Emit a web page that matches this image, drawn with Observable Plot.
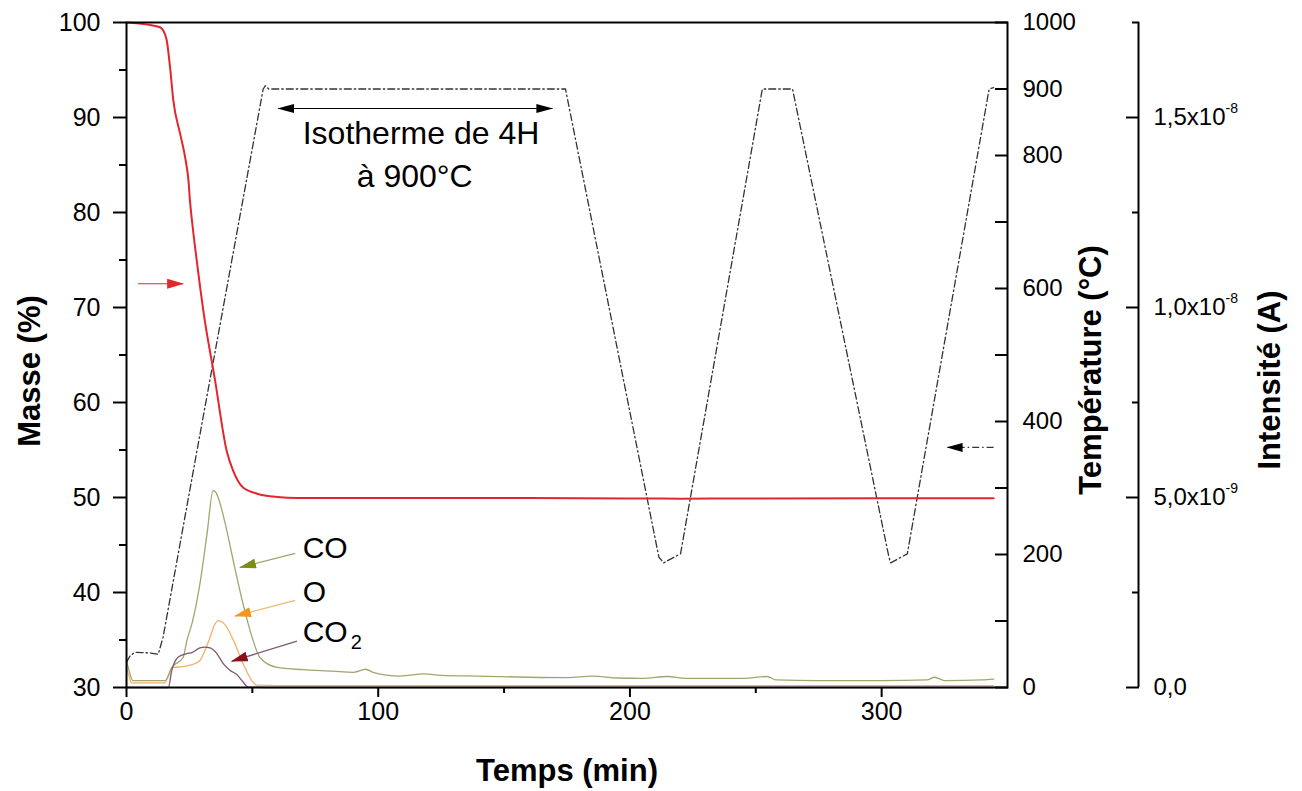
<!DOCTYPE html>
<html>
<head>
<meta charset="utf-8">
<script src="https://cdn.jsdelivr.net/npm/d3@7"></script>
<script src="https://cdn.jsdelivr.net/npm/@observablehq/plot@0.6"></script>
<style>
html, body { margin: 0; padding: 0; background: #fff; }
#chart svg { display: block; }
</style>
</head>
<body>
<div id="chart"></div>
<script>
// ---------------- DATA ----------------
// Masse (%) vs Temps (min)
const massSeries = [
  [0,100],[5,99.9],[10,99.7],[13.3,99.5],[14.6,99.16],[16,98.1],[17.3,95.3],[18.6,91.8],
  [21.3,88.3],[23.3,85.8],[24.6,83.4],[25.2,81.3],[26.5,78],[27.9,74.95],[30.5,69.7],
  [35.2,62.3],[39.8,54.9],[42.4,52.8],[46.3,51.05],[51.9,50.4],[60,50.05],[67.8,49.95],
  [100,49.95],[150,49.95],[200,49.9],[220,49.88],[250,49.9],[300,49.92],[344.5,49.92]
];
// Température (°C) vs Temps (min)
const tempSeries = [
  [0,38],[1.5,48],[3.4,53],[9.3,52],[12.6,50],[14.5,75],[28,356],[54.3,900],[55.2,905],
  [56.5,900],[174.4,900],[211.5,196],[213.4,187.5],[220.1,201],[252.6,900],[264.6,900],
  [302.9,196],[303.6,187.5],[310.2,201],[342.7,900],[344.5,902]
];
// Intensité (x1e-9 A) vs Temps (min)
const coSeries = [
  [0,0.7],[1,0.45],[2.6,0.18],[15.3,0.18],[18,0.53],[22.5,0.79],[24,1.24],[26,1.68],
  [29.2,2.74],[32,4.05],[34.4,5.18],[35.3,5.15],[36.4,5.0],[39.2,4.32],[42.4,3.34],
  [46.3,2.2],[49.9,1.32],[53,0.79],[59.8,0.53],[70,0.47],[82,0.43],[90,0.4],[95,0.48],
  [98,0.4],[108.7,0.3],[118,0.36],[125,0.32],[140,0.3],[160,0.27],[175,0.26],[185,0.3],
  [195,0.25],[205,0.24],[215,0.29],[222,0.24],[245,0.24],[254.6,0.29],[258,0.2],[275,0.18],
  [300,0.18],[318,0.2],[321,0.27],[325,0.18],[340,0.2],[344.5,0.22]
];
const oSeries = [
  [0,0.5],[1,0.3],[2,0.12],[15,0.12],[17,0.35],[18,0.53],[22.6,0.55],[26,0.6],[29.2,0.71],
  [31,0.95],[33.2,1.32],[35,1.65],[36.5,1.76],[37.5,1.74],[39.2,1.65],[42.5,1.24],
  [46.4,0.62],[49.8,0.18],[51.8,0.06],[60,0.05],[344.5,0.05]
];
const co2Series = [
  [0,0],[16.6,0],[18,0.45],[20.6,0.8],[23.9,0.89],[26,0.92],[29.2,1.04],[31,1.06],
  [33.2,1.04],[35.9,0.89],[38.5,0.62],[41.2,0.45],[43.8,0.34],[46.4,0.14],[48.4,0.01],
  [60,0],[344.5,0]
];

// Axis ticks
const timeTicks = [0, 100, 200, 300];
const timeMinor = [50, 150, 250];
const massTicks = [30, 40, 50, 60, 70, 80, 90, 100];
const massMinor = [35, 45, 55, 65, 75, 85, 95];
const tempTicks = [0, 100, 200, 300, 400, 500, 600, 700, 800, 900, 1000];
const tempLabels = [0, 200, 400, 600, 800, 900, 1000];
const intTicks = [0, 5, 10, 15];          // x1e-9 A
const intMinor = [2.5, 7.5, 12.5, 17.5];
const intMantissa = ["0,0", "5,0x10", "1,0x10", "1,5x10"];
const intExponent = [null, "-9", "-8", "-8"];

// Domains
const X_MAX = 350, M_MIN = 30, M_MAX = 100, T_MAX = 1000, I_MAX = 17.5;
const tM = T => M_MIN + T * (M_MAX - M_MIN) / T_MAX;   // temperature -> mass space
const iM = I => M_MIN + I * (M_MAX - M_MIN) / I_MAX;   // intensity -> mass space

// Annotations (layout)
const FONT = "'Liberation Sans', Arial, Helvetica, sans-serif";
const annoTexts = [
  {t: 117, y: tM(833), text: "Isotherme de 4H"},
  {t: 114.5, y: tM(768), text: "à 900°C"}
];
const gasLabels = [
  {t: 70, y: iM(3.66), text: "CO"},
  {t: 70, y: iM(2.5), text: "O"},
  {t: 70, y: iM(1.45), text: "CO"}
];
const arrows = [
  {x1: 67, y1: iM(3.53), x2: 45.1, y2: iM(3.16), line: "#9ea46a", head: "#7d8c14", w: 1.3},
  {x1: 67, y1: iM(2.29), x2: 43.1, y2: iM(1.88), line: "#f0b878", head: "#f3961a", w: 1.3},
  {x1: 67.7, y1: iM(1.22), x2: 41.8, y2: iM(0.69), line: "#7d5670", head: "#8a0f1a", w: 1.3},
  {x1: 4.6, y1: 72.5, x2: 22.5, y2: 72.5, line: "#e8262e", head: "#e8262e", w: 1.2}
];

function headMarker(orient, fill, len = 16, half = 5) {
  return (color, context) => {
    const doc = context.document;
    const ns = "http://www.w3.org/2000/svg";
    const m = doc.createElementNS(ns, "marker");
    m.setAttribute("viewBox", `0 ${-half} ${len} ${2 * half}`);
    m.setAttribute("refX", len - 1);
    m.setAttribute("refY", 0);
    m.setAttribute("markerWidth", len);
    m.setAttribute("markerHeight", 2 * half);
    m.setAttribute("markerUnits", "userSpaceOnUse");
    m.setAttribute("orient", orient);
    const p = doc.createElementNS(ns, "path");
    p.setAttribute("d", `M0,${-half}L${len},0L0,${half}Z`);
    p.setAttribute("fill", fill || color);
    p.setAttribute("stroke", "none");
    m.appendChild(p);
    return m;
  };
}

const toObj = s => s.map(([t, v]) => ({t, v}));
const title = {fontSize: 31, fontWeight: "bold", fill: "black", textAnchor: "middle", lineAnchor: "middle"};

const chart = Plot.plot({
  width: 1302,
  height: 791,
  marginLeft: 126,
  marginRight: 295,
  marginTop: 22,
  marginBottom: 104,
  style: {fontFamily: FONT, color: "black", background: "white", overflow: "visible"},
  x: {domain: [0, X_MAX], axis: null},
  y: {domain: [M_MIN, M_MAX], axis: null},
  marks: [
    // MS curves
    Plot.line(toObj(oSeries), {x: "t", y: d => iM(d.v), stroke: "#f0b26a", strokeWidth: 1.3, curve: "monotone-x"}),
    Plot.line(toObj(coSeries), {x: "t", y: d => iM(d.v), stroke: "#a0a66e", strokeWidth: 1.3, curve: "monotone-x"}),
    Plot.line(toObj(co2Series), {x: "t", y: d => iM(d.v), stroke: "#7d5670", strokeWidth: 1.3, curve: "monotone-x"}),
    // Temperature
    Plot.line(toObj(tempSeries), {x: "t", y: d => tM(d.v), stroke: "#333", strokeWidth: 1.3, strokeDasharray: "7,3,1.5,3"}),
    // Mass
    Plot.line(toObj(massSeries), {x: "t", y: "v", stroke: "#e3262e", strokeWidth: 2, curve: "monotone-x"}),

    // Frame and extra axis line
    Plot.frame({stroke: "black", strokeWidth: 2}),
    Plot.ruleX([X_MAX], {dx: 131, stroke: "black", strokeWidth: 2}),

    // Left axis (Masse)
    Plot.axisY(massTicks, {anchor: "left", tickSize: 13, fill: "none", strokeWidth: 2, label: null}),
    Plot.axisY(massMinor, {anchor: "left", tickSize: 7, fill: "none", strokeWidth: 2, label: null}),
    Plot.axisY(massTicks, {anchor: "left", tickSize: 0, tickPadding: 26, fontSize: 25, label: null}),

    // Bottom axis (Temps)
    Plot.axisX(timeTicks, {anchor: "bottom", tickSize: 10, fill: "none", strokeWidth: 2, label: null}),
    Plot.axisX(timeMinor, {anchor: "bottom", tickSize: 6, fill: "none", strokeWidth: 2, label: null}),
    Plot.axisX(timeTicks, {anchor: "bottom", tickSize: 0, tickPadding: 15, fontSize: 25, label: null}),

    // Right axis (Température), ticks inward
    Plot.axisY(tempTicks.map(tM), {anchor: "right", tickSize: 13, insetRight: 13, fill: "none", strokeWidth: 2, label: null}),
    Plot.axisY(tempLabels.map(tM), {anchor: "right", tickSize: 0, tickPadding: 15, fontSize: 24, label: null,
      tickFormat: v => String(Math.round((v - M_MIN) * T_MAX / (M_MAX - M_MIN)))}),

    // Far right axis (Intensité)
    Plot.axisY(intTicks.map(iM), {anchor: "right", dx: 131, tickSize: 13, insetRight: 13, fill: "none", strokeWidth: 2, label: null}),
    Plot.axisY(intMinor.map(iM), {anchor: "right", dx: 131, tickSize: 7, insetRight: 7, fill: "none", strokeWidth: 2, label: null}),
    Plot.text(intTicks.map((v, i) => ({v, m: intMantissa[i]})), {y: d => iM(d.v), text: "m", frameAnchor: "right",
      dx: 146, textAnchor: "start", fontSize: 24, fill: "black"}),
    Plot.text(intTicks.map((v, i) => ({v, e: intExponent[i]})).filter(d => d.e), {y: d => iM(d.v), text: "e", frameAnchor: "right",
      dx: 146 + 72, dy: -9, textAnchor: "start", fontSize: 14, fill: "black"}),

    // Axis titles
    Plot.text(["Masse (%)"], {...title, text: d => d, frameAnchor: "left", dx: -96, dy: 16, rotate: -90}),
    Plot.text(["Temps (min)"], {...title, text: d => d, frameAnchor: "bottom", dy: 84}),
    Plot.text(["Température (°C)"], {...title, text: d => d, frameAnchor: "right", dx: 84, dy: 15, rotate: -90}),
    Plot.text(["Intensité (A)"], {...title, text: d => d, frameAnchor: "right", dx: 263, dy: 25, rotate: -90}),

    // Annotations
    Plot.link([{x1: 60.3, x2: 169.2, y: tM(870.7)}], {x1: "x1", x2: "x2", y1: "y", y2: "y", stroke: "black", strokeWidth: 1.2,
      markerStart: headMarker("auto-start-reverse", "black", 17, 4.5), markerEnd: headMarker("auto", "black", 17, 4.5)}),
    Plot.text(annoTexts, {x: "t", y: "y", text: "text", fontSize: 32, fill: "black"}),
    Plot.link([{x1: 344.5, x2: 326.2, y: tM(361)}], {x1: "x1", x2: "x2", y1: "y", y2: "y", stroke: "#333", strokeWidth: 1.3,
      strokeDasharray: "7,3,1.5,3", markerEnd: headMarker("auto", "black", 16, 4.5)}),
    ...arrows.map(a => Plot.link([a], {x1: "x1", y1: "y1", x2: "x2", y2: "y2", stroke: a.line, strokeWidth: a.w,
      markerEnd: headMarker("auto", a.head, 17, 5)})),
    Plot.text(gasLabels, {x: "t", y: "y", text: "text", textAnchor: "start", fontSize: 30, fill: "black"}),
    Plot.text([gasLabels[2]], {x: "t", y: "y", text: () => "2", textAnchor: "start", dx: 48, dy: 10, fontSize: 20, fill: "black"})
  ]
});

document.getElementById("chart").appendChild(chart);
</script>
</body>
</html>
